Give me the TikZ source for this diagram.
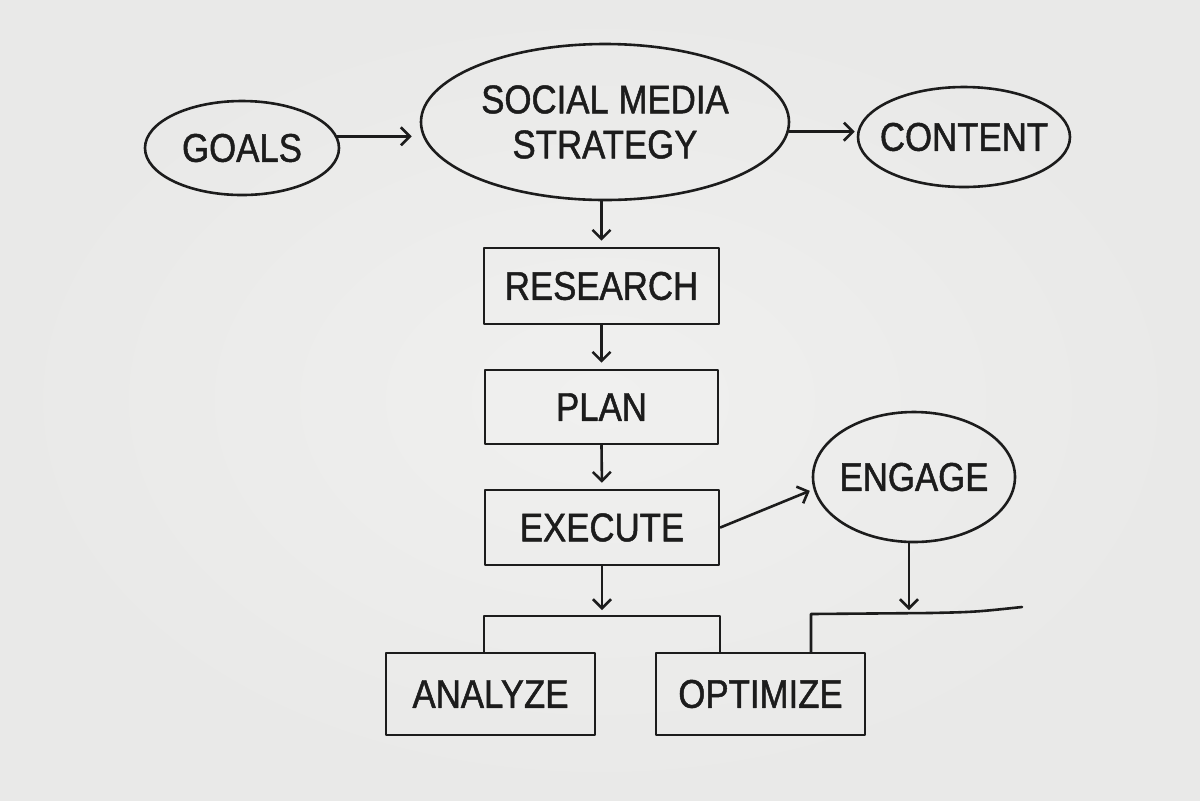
\documentclass[tikz,border=0pt]{standalone}
\usepackage{fontspec}
\setmainfont{Liberation Sans}[FakeStretch=0.87,FakeBold=1.2]
\usetikzlibrary{arrows.meta,shapes.geometric}
\definecolor{ink}{HTML}{1C1C1C}
\definecolor{bgin}{HTML}{F0F0EF}
\definecolor{bgout}{HTML}{E9E9E8}
\begin{document}
\begin{tikzpicture}[x=0.5pt,y=-0.5pt,
  every node/.style={text=ink,font=\fontsize{20}{22.5}\selectfont},
  line/.style={draw=ink,line width=1.3pt,line join=round,line cap=round},
  arr/.style={line,-{Straight Barb[length=4.5pt,width=9pt,line width=1.3pt]}},
  oval/.style={line,ellipse,inner xsep=-20pt,inner ysep=0pt},
  boxn/.style={line,rectangle,inner sep=0pt}]
\shade[inner color=bgin,outer color=bgout] (0,0) rectangle (1200,800);
\useasboundingbox (0,0) rectangle (1200,800);
\node[oval,minimum width=97pt,minimum height=47pt] (goals) at (242,148) {GOALS};
\node[oval,minimum width=184pt,minimum height=78pt,align=center] (sms) at (605,122) {SOCIAL MEDIA\\STRATEGY};
\node[oval,minimum width=106pt,minimum height=50pt] (content) at (964,137) {CONTENT};
\node[boxn,minimum width=117.5pt,minimum height=38pt] (research) at (601.5,286) {RESEARCH};
\node[boxn,minimum width=116.5pt,minimum height=37pt] (plan) at (601.5,407) {PLAN};
\node[boxn,minimum width=117pt,minimum height=37.5pt] (execute) at (602,527.5) {EXECUTE};
\node[oval,minimum width=101pt,minimum height=65pt] (engage) at (914,477) {ENGAGE};
\node[boxn,minimum width=104.5pt,minimum height=41pt] (analyze) at (490.5,694) {ANALYZE};
\node[boxn,minimum width=104.5pt,minimum height=41pt] (optimize) at (760.5,694) {OPTIMIZE};
\coordinate (bl) at (484,616);
\coordinate (br) at (720,616);
\coordinate (jn) at (601,616);
\coordinate (er) at (811,614);
\coordinate (tail) at (1022,607);
\draw[arr] (goals.7) -- (goals.7 -| sms.west) [shorten >=4pt];
\draw[arr,shorten >=1pt] (sms.-3) -- (sms.-3 -| content.west);
\draw[arr,shorten >=3pt] (research.north |- sms.south) -- (research.north);
\draw[arr,shorten >=3pt] (research.south) -- (plan.north);
\draw[arr,shorten >=3pt] (plan.south) -- (execute.north);
\draw[arr,shorten >=2pt] (execute.east) -- (engage.187);
\draw[arr,shorten >=3pt] (execute.south) -- (execute.south |- jn);
\draw[line] (analyze.north -| bl) -- (bl) -- (br) -- (optimize.north -| br);
\draw[arr,shorten >=2pt] ([xshift=-2.5pt]engage.south) -- ([xshift=-2.5pt]engage.south |- er);
\draw[line] (optimize.north -| er) -- (er) -- (930,613) .. controls (975,612) .. (tail);
\end{tikzpicture}
\end{document}
